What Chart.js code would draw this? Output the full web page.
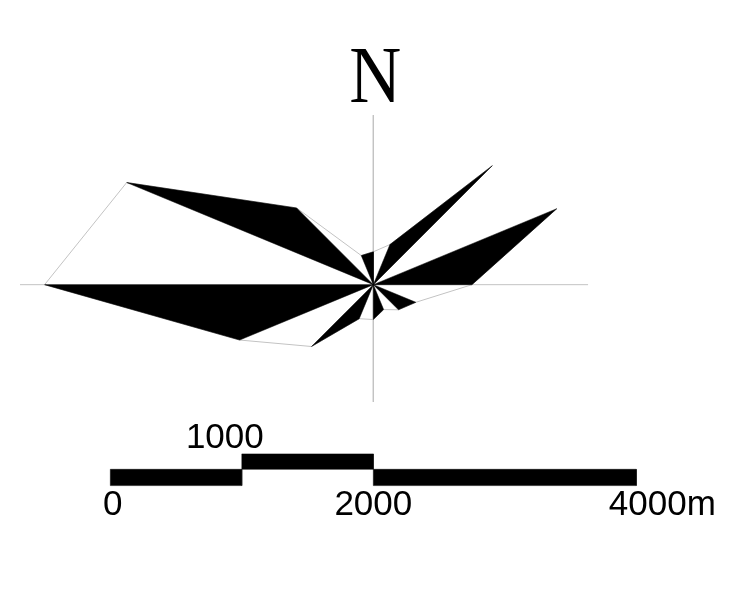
<!DOCTYPE html>
<html>
<head>
<meta charset="utf-8">
<style>
html,body{margin:0;padding:0;background:#fff;overflow:hidden}
canvas{display:block}
</style>
<script src="https://cdn.jsdelivr.net/npm/chart.js@4/dist/chart.umd.min.js"></script>
</head>
<body>
<canvas id="c" width="741" height="605"></canvas>
<script>
// ---------------- DATA ----------------
const directions = ['N','NNE','NE','ENE','E','ESE','SE','SSE','S','SSW','SW','WSW','W','WNW','NW','NNW'];
const lengths = [250, 330, 1280, 1510, 750, 350, 270, 205, 265, 280, 665, 1100, 2500, 2030, 825, 240]; // metres
const axisExtents = [1290, 1633, 892, 2687]; // N, E, S, W reference-line lengths (m)
const scaleTicks = [0, 1000, 2000, 4000];
const scaleTickLabels = ['0', '1000', '2000', '4000m'];
const northLabel = 'N';

// ---------------- LAYOUT ----------------
const L = {
  xMin: -2839, xMax: 2796, yMin: -2436, yMax: 2165,
  barOrigin: -2000,
  barTop: -1287, barMid: -1404, barBottom: -1528,
  barLevels: ['low', 'high', 'low'],
  labelDx: [2.5, -17, 0, 26],
  labelSide: ['below', 'above', 'below', 'below'],
  outlineStart: 3, // outline is open between NE and ENE
  grey: 'rgb(195,195,195)'
};

const n = directions.length;
const step = 2 * Math.PI / n;
const tip = i => ({ x: lengths[i] * Math.sin(i * step), y: lengths[i] * Math.cos(i * step) });
const center = { x: 0, y: 0 };

const datasets = [];
// black wedges (between odd direction and the next)
for (let i = 1; i < n; i += 2) {
  const j = (i + 1) % n;
  datasets.push({
    label: directions[i] + '-' + directions[j],
    data: [center, tip(i), tip(j), center],
    fill: 'shape', backgroundColor: '#000', borderColor: '#000', borderWidth: 0.5,
    pointRadius: 0
  });
}
// scale bar segments
for (let s = 0; s < scaleTicks.length - 1; s++) {
  const x0 = L.barOrigin + scaleTicks[s], x1 = L.barOrigin + scaleTicks[s + 1];
  const yt = L.barLevels[s] === 'high' ? L.barTop : L.barMid;
  const yb = L.barLevels[s] === 'high' ? L.barMid : L.barBottom;
  datasets.push({
    label: 'bar' + s,
    data: [{x: x0, y: yt}, {x: x1, y: yt}, {x: x1, y: yb}, {x: x0, y: yb}, {x: x0, y: yt}],
    fill: 'shape', backgroundColor: '#000', borderColor: '#000', borderWidth: 0.5,
    pointRadius: 0
  });
}
// outline polyline
const outline = [];
for (let k = 0; k < n; k++) outline.push(tip((L.outlineStart + k) % n));
datasets.push({
  label: 'outline', data: outline, fill: false,
  borderColor: L.grey, borderWidth: 1, pointRadius: 0
});
// reference axes
datasets.push({
  label: 'EW', data: [{x: -axisExtents[3], y: 0}, {x: axisExtents[1], y: 0}],
  fill: false, borderColor: L.grey, borderWidth: 1, pointRadius: 0
});
datasets.push({
  label: 'NS', data: [{x: 0, y: axisExtents[0]}, {x: 0, y: -axisExtents[2]}],
  fill: false, borderColor: L.grey, borderWidth: 1, pointRadius: 0
});

const textPlugin = {
  id: 'texts',
  afterDatasetsDraw(chart) {
    const {ctx, scales: {x, y}} = chart;
    ctx.save();
    ctx.fillStyle = '#000';
    ctx.textAlign = 'center';
    ctx.textBaseline = 'alphabetic';
    ctx.font = '35px "Liberation Sans", Arial, sans-serif';
    scaleTicks.forEach((t, i) => {
      const px = x.getPixelForValue(L.barOrigin + t) + L.labelDx[i];
      const py = L.labelSide[i] === 'above'
        ? y.getPixelForValue(L.barTop) - 6
        : y.getPixelForValue(L.barBottom) + 29.5;
      ctx.fillText(scaleTickLabels[i], px, py);
    });
    ctx.font = '80px "Liberation Serif", "Times New Roman", serif';
    const nx = x.getPixelForValue(0) + 2;
    const ny = y.getPixelForValue(axisExtents[0]) - 12.7;
    ctx.translate(nx, ny);
    ctx.scale(0.9, 1);
    ctx.fillText(northLabel, 0, 0);
    ctx.restore();
  }
};

new Chart(document.getElementById('c'), {
  type: 'line',
  data: { datasets },
  options: {
    responsive: false,
    animation: false,
    devicePixelRatio: 1,
    events: [],
    layout: { padding: 0 },
    elements: { line: { tension: 0 } },
    plugins: { legend: { display: false }, tooltip: { enabled: false } },
    scales: {
      x: { type: 'linear', display: false, min: L.xMin, max: L.xMax },
      y: { type: 'linear', display: false, min: L.yMin, max: L.yMax }
    }
  },
  plugins: [textPlugin]
});
</script>
</body>
</html>
